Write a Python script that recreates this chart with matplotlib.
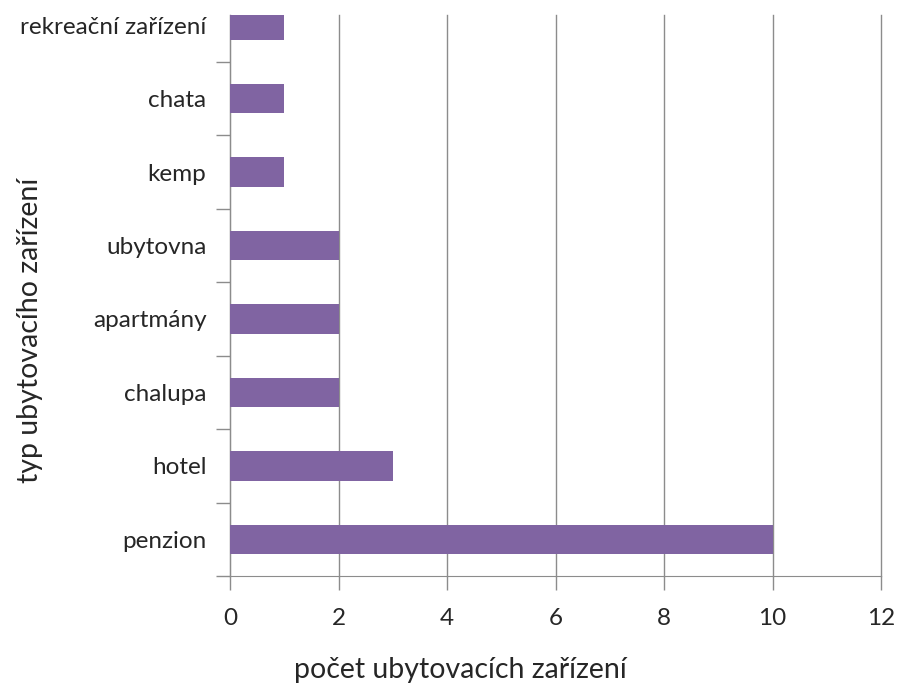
import matplotlib.pyplot as plt

# -----------------------------
# DATA
# -----------------------------
categories = ["penzion", "hotel", "chalupa", "apartmány", "ubytovna",
              "kemp", "chata", "rekreační zařízení"]
counts = [10, 3, 2, 2, 2, 1, 1, 1]
x_ticks = [0, 2, 4, 6, 8, 10, 12]

BAR_COLOR = "#8064A2"
GRID_COLOR = "#8C8C8C"
TEXT_COLOR = "#262626"

plt.rcParams['font.family'] = ['Lato', 'DejaVu Sans']

fig = plt.figure(figsize=(8.97, 6.89), dpi=100)
ax = fig.add_axes([230 / 897, 1 - 576 / 689, (881 - 230) / 897, (576 - 15) / 689])

pos = list(range(len(categories)))
ax.barh(pos, counts, height=0.4, color=BAR_COLOR, zorder=3)

ax.set_xlim(0, 12)
ax.set_ylim(-0.5, 7.14)
ax.set_xticks(x_ticks)
ax.set_xticklabels([str(v) for v in x_ticks])

# category labels at band centres, tick marks between bands
ax.set_yticks(pos)
ax.set_yticklabels(categories)
ax.tick_params(axis='y', which='major', length=0, pad=17, labelsize=17.5, colors=TEXT_COLOR)
ax.set_yticks([p - 0.5 for p in pos], minor=True)
ax.tick_params(axis='y', which='minor', length=10, width=1, color=GRID_COLOR)
ax.tick_params(axis='x', length=10, width=1, color=GRID_COLOR, pad=13,
               labelsize=17.5, labelcolor=TEXT_COLOR)

ax.grid(axis='x', color=GRID_COLOR, linewidth=1, zorder=0)
for gl in ax.get_xgridlines():
    gl.set_clip_on(False)
for s in ['top', 'right']:
    ax.spines[s].set_visible(False)
for s in ['left', 'bottom']:
    ax.spines[s].set_color(GRID_COLOR)

# axis titles placed as in the original (not centred on the axes)
fig.text(460 / 897, 1 - 670 / 689, "počet ubytovacích zařízení", fontsize=20.5,
         color=TEXT_COLOR, ha='center', va='center')
fig.text(30 / 897, 1 - 330 / 689, "typ ubytovacího zařízení", fontsize=20.5,
         color=TEXT_COLOR, ha='center', va='center', rotation=90)

fig.savefig("out.png", dpi=100)
